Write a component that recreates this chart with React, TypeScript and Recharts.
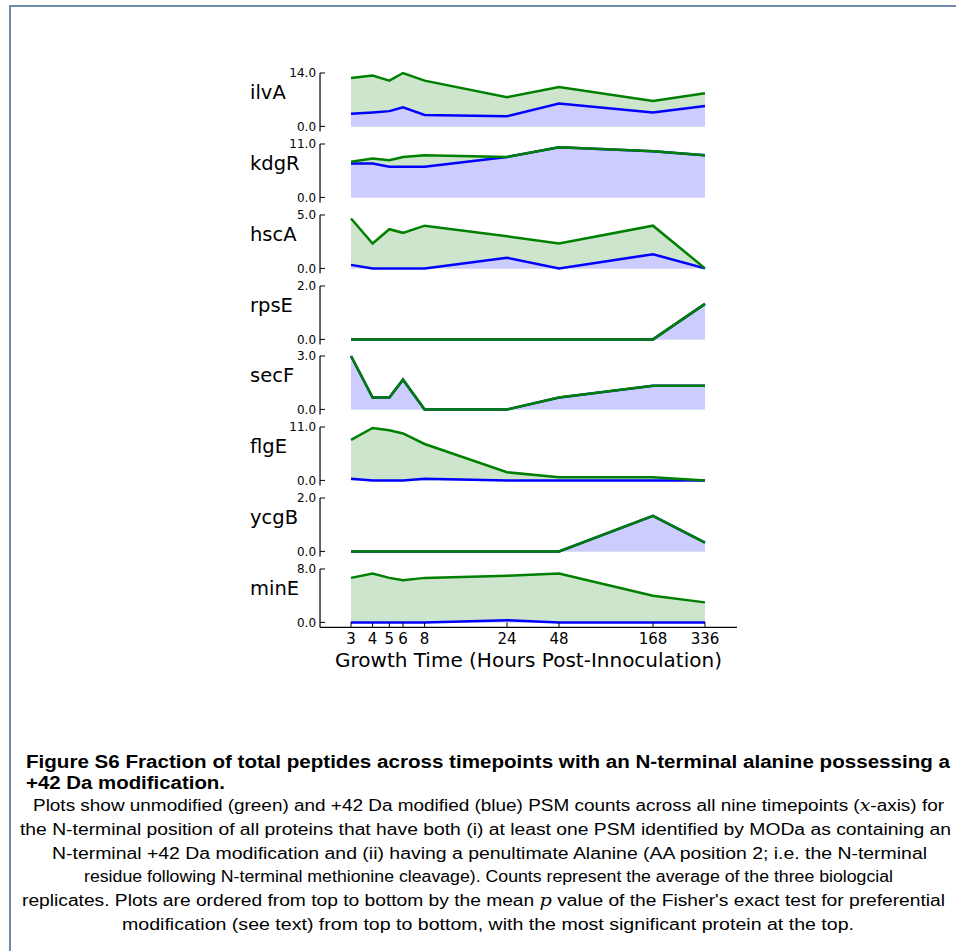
import React from 'react';
import { ComposedChart, Area, Line, XAxis, YAxis } from 'recharts';

// growth timepoints (hours post-innoculation), log x axis
const hours = [3, 4, 5, 6, 8, 24, 48, 168, 336];

// unmodified (green) and +42 Da modified (blue) PSM counts per protein
const ilvAUnmod = [12.67, 13.33, 12.0, 14.0, 12.0, 7.67, 10.33, 6.67, 8.67];
const ilvAMod = [3.33, 3.67, 4.0, 5.0, 3.0, 2.67, 6.0, 3.67, 5.33];

const kdgRUnmod = [7.33, 8.0, 7.67, 8.33, 8.67, 8.33, 10.33, 9.5, 8.67];
const kdgRMod = [7.0, 7.0, 6.33, 6.33, 6.33, 8.33, 10.33, 9.5, 8.67];

const hscAUnmod = [4.67, 2.33, 3.67, 3.33, 4.0, 3.0, 2.33, 4.0, 0];
const hscAMod = [0.33, 0, 0, 0, 0, 1.0, 0, 1.33, 0];

const rpsEUnmod = [0, 0, 0, 0, 0, 0, 0, 0, 1.33];
const rpsEMod = [0, 0, 0, 0, 0, 0, 0, 0, 1.33];

const secFUnmod = [3.0, 0.67, 0.67, 1.67, 0, 0, 0.67, 1.33, 1.33];
const secFMod = [3.0, 0.67, 0.67, 1.67, 0, 0, 0.67, 1.33, 1.33];

const flgEUnmod = [8.33, 10.8, 10.33, 9.67, 7.5, 1.67, 0.67, 0.67, 0];
const flgEMod = [0.33, 0, 0, 0, 0.33, 0, 0, 0, 0];

const ycgBUnmod = [0, 0, 0, 0, 0, 0, 0, 1.33, 0.33];
const ycgBMod = [0, 0, 0, 0, 0, 0, 0, 1.33, 0.33];

const minEUnmod = [6.67, 7.33, 6.67, 6.33, 6.67, 7.0, 7.33, 4.0, 3.0];
const minEMod = [0, 0, 0, 0, 0, 0.33, 0, 0, 0];

const proteinNames = ['ilvA', 'kdgR', 'hscA', 'rpsE', 'secF', 'flgE', 'ycgB', 'minE'];
const yMaxes = [14, 11, 5, 2, 3, 11, 2, 8];
const unmodSeries = [ilvAUnmod, kdgRUnmod, hscAUnmod, rpsEUnmod, secFUnmod, flgEUnmod, ycgBUnmod, minEUnmod];
const modSeries = [ilvAMod, kdgRMod, hscAMod, rpsEMod, secFMod, flgEMod, ycgBMod, minEMod];

const captionLines = [
  'Plots show unmodified (green) and +42 Da modified (blue) PSM counts across all nine timepoints (',
  'the N-terminal position of all proteins that have both (i) at least one PSM identified by MODa as containing an',
  'N-terminal +42 Da modification and (ii) having a penultimate Alanine (AA position 2; i.e. the N-terminal',
  'residue following N-terminal methionine cleavage). Counts represent the average of the three biologcial',
  'replicates. Plots are ordered from top to bottom by the mean ',
  'modification (see text) from top to bottom, with the most significant protein at the top.',
];

const GREEN = '#008000';
const BLUE = '#0000ff';
const FONT = '"DejaVu Sans", sans-serif';

const PANEL_TOP = 73;
const PANEL_STEP = 70.85;
const DATA_H = 53.4;
const PAD_BOTTOM = 5;
const MARGIN_TOP = 10;

const YTick = (props: any) => {
  const { x, y, payload } = props;
  return (
    <g>
      <line x1={x} x2={x + 5} y1={y} y2={y} stroke="#000" strokeWidth={1} />
      <text x={x - 4} y={y + 4.3} textAnchor="end" fontSize={12} fontFamily={FONT} fill="#000">
        {Number(payload.value).toFixed(1)}
      </text>
    </g>
  );
};

const XTick = (props: any) => {
  const { x, y, payload } = props;
  return (
    <g>
      <line x1={x} x2={x} y1={y} y2={y - 5} stroke="#000" strokeWidth={1} />
      <text x={x} y={y + 17} textAnchor="middle" fontSize={15} fontFamily={FONT} fill="#000">
        {payload.value}
      </text>
    </g>
  );
};

function Panel({ index }: { index: number }) {
  const isLast = index === proteinNames.length - 1;
  const data = hours.map((h, i) => ({
    hour: h,
    unmod: unmodSeries[index][i],
    mod: modSeries[index][i],
  }));
  const top = PANEL_TOP + index * PANEL_STEP - MARGIN_TOP;
  const height = MARGIN_TOP + DATA_H + PAD_BOTTOM + (isLast ? 30 : 2);
  return (
    <div style={{ position: 'absolute', left: 270, top, width: 467, height }}>
      <ComposedChart
        width={467}
        height={height}
        data={data}
        margin={{ top: MARGIN_TOP, right: 0, bottom: isLast ? 0 : 2, left: 0 }}
      >
        <XAxis
          dataKey="hour"
          type="number"
          scale="log"
          domain={[3, 336]}
          ticks={hours}
          interval={0}
          padding={{ left: 31, right: 32 }}
          hide={!isLast}
          height={30}
          tickSize={0}
          tickMargin={0}
          tickLine={false}
          tick={<XTick />}
          axisLine={{ stroke: '#000', strokeWidth: 1.2 }}
        />
        <YAxis
          type="number"
          width={50}
          domain={[0, yMaxes[index]]}
          ticks={[0, yMaxes[index]]}
          interval={0}
          padding={{ top: 0, bottom: PAD_BOTTOM }}
          tickSize={0}
          tickMargin={0}
          tickLine={false}
          tick={<YTick />}
          axisLine={{ stroke: '#000', strokeWidth: 1.2 }}
        />
        <Area
          type="linear"
          dataKey="unmod"
          stroke="none"
          fill="#cce5cc"
          fillOpacity={1}
          baseValue={0}
          isAnimationActive={false}
        />
        <Area
          type="linear"
          dataKey="mod"
          stroke="none"
          fill="#ccccff"
          fillOpacity={1}
          baseValue={0}
          isAnimationActive={false}
        />
        <Line type="linear" dataKey="mod" stroke={BLUE} strokeWidth={2.5} dot={false} activeDot={false} isAnimationActive={false} />
        <Line type="linear" dataKey="unmod" stroke={GREEN} strokeWidth={2.5} dot={false} activeDot={false} isAnimationActive={false} />
      </ComposedChart>
      <div
        style={{
          position: 'absolute',
          left: -20,
          top: MARGIN_TOP + 10,
          fontFamily: FONT,
          fontSize: 19.5,
          lineHeight: 1,
          color: '#000',
        }}
      >
        {proteinNames[index]}
      </div>
    </div>
  );
}

export default function App() {
  const cap = { fontFamily: '"Liberation Sans", Arial, sans-serif', fill: '#000' };
  return (
    <div style={{ position: 'absolute', left: 0, top: 0, width: 956, height: 951, overflow: 'hidden', background: '#fff' }}>
      <div style={{ position: 'absolute', left: 9, top: 5, width: 947, height: 2, background: '#7189ad' }} />
      <div style={{ position: 'absolute', left: 9, top: 5, width: 2, height: 946, background: '#7189ad' }} />

      {proteinNames.map((_, i) => (
        <Panel key={proteinNames[i]} index={i} />
      ))}

      <div
        style={{
          position: 'absolute',
          left: 320,
          top: 650,
          width: 417,
          textAlign: 'center',
          fontFamily: FONT,
          fontSize: 20,
          lineHeight: 1,
          whiteSpace: 'nowrap',
          color: '#000',
        }}
      >
        Growth Time (Hours Post-Innoculation)
      </div>

      <svg width={956} height={211} style={{ position: 'absolute', left: 0, top: 740 }}>
        <text x={26} y={28} fontSize={18} fontWeight="bold" textLength={924} lengthAdjust="spacingAndGlyphs" {...cap}>
          Figure S6  Fraction of total peptides across timepoints with an N-terminal alanine possessing a
        </text>
        <text x={26} y={49} fontSize={18} fontWeight="bold" textLength={199} lengthAdjust="spacingAndGlyphs" {...cap}>
          +42 Da modification.
        </text>
        <text x={33} y={71} fontSize={16} textLength={911} lengthAdjust="spacingAndGlyphs" {...cap}>
          {captionLines[0]}
          <tspan fontStyle="italic" fontFamily="'DejaVu Serif', serif">x</tspan>
          -axis) for
        </text>
        <text x={20} y={95} fontSize={16} textLength={931} lengthAdjust="spacingAndGlyphs" {...cap}>
          {captionLines[1]}
        </text>
        <text x={52} y={119} fontSize={16} textLength={875} lengthAdjust="spacingAndGlyphs" {...cap}>
          {captionLines[2]}
        </text>
        <text x={84} y={142} fontSize={16} textLength={809} lengthAdjust="spacingAndGlyphs" {...cap}>
          {captionLines[3]}
        </text>
        <text x={22} y={166} fontSize={16} textLength={923} lengthAdjust="spacingAndGlyphs" {...cap}>
          {captionLines[4]}
          <tspan fontStyle="italic" fontFamily="'DejaVu Serif', serif">p</tspan>
          {" value of the Fisher's exact test for preferential"}
        </text>
        <text x={122} y={190} fontSize={16} textLength={732} lengthAdjust="spacingAndGlyphs" {...cap}>
          {captionLines[5]}
        </text>
      </svg>
    </div>
  );
}
